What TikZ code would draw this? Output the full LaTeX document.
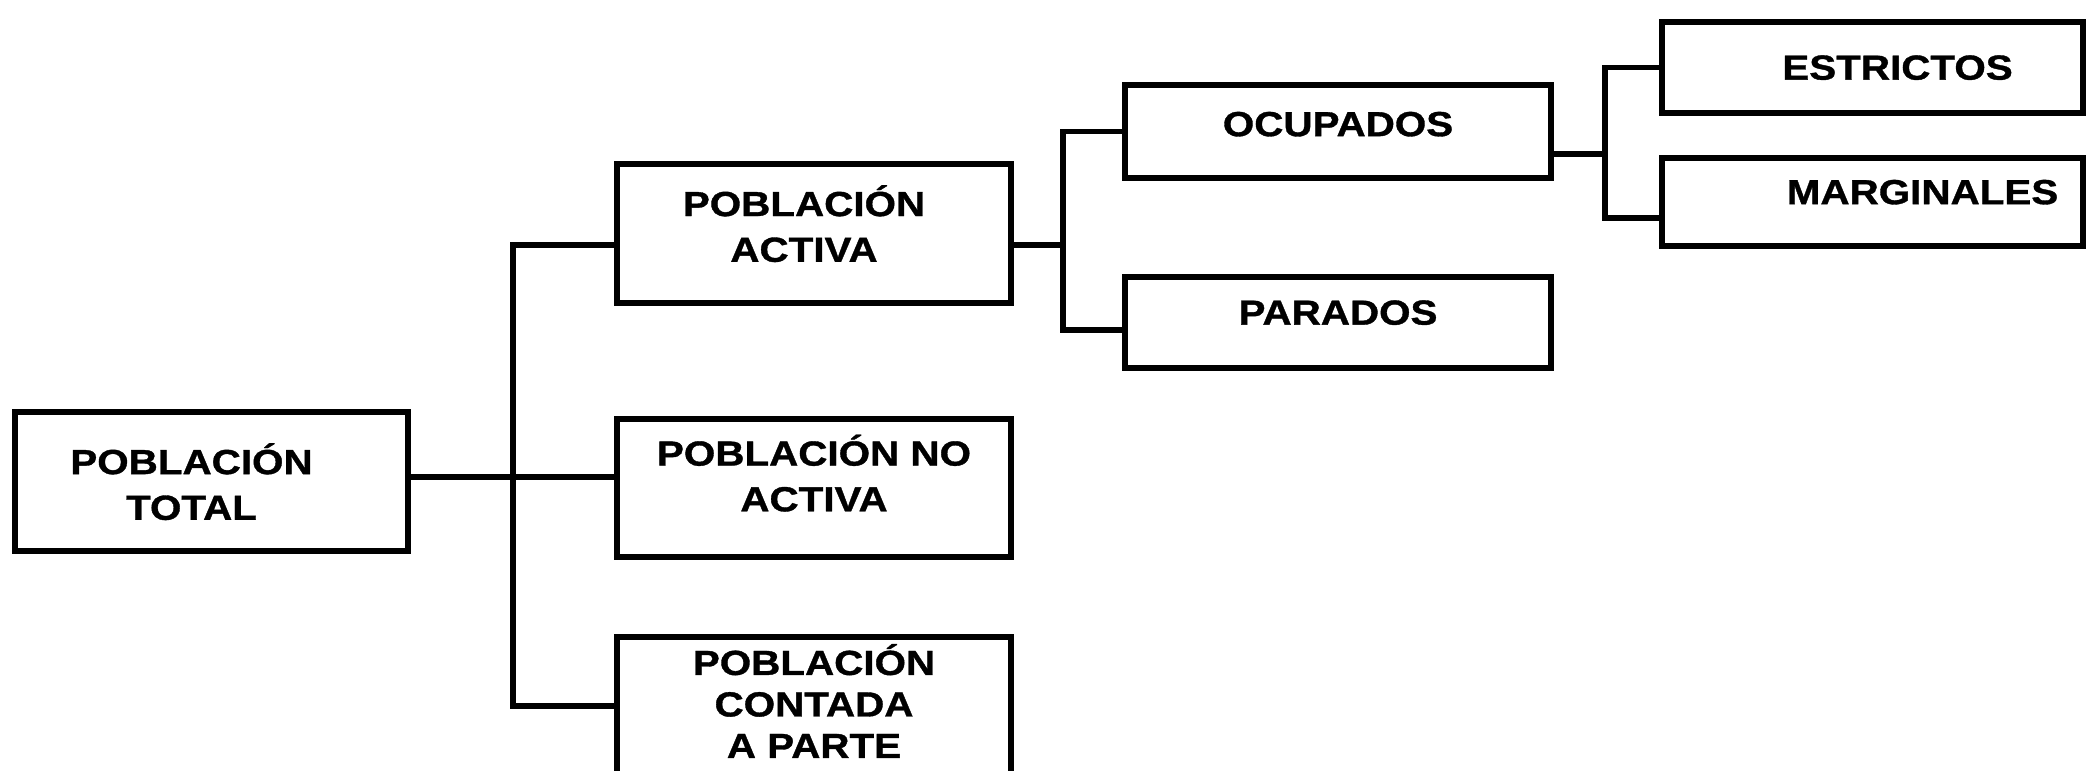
\documentclass[tikz,border=0pt]{standalone}
\usepackage{fontspec}
\newfontfamily\boxfont{Liberation Sans}[FakeStretch=1.16, FakeBold=1]

\begin{document}
\begin{tikzpicture}[
    x=0.01cm, y=-0.01cm,
    box/.style={draw, line width=1.7pt, rectangle, align=center, inner sep=0pt, text depth=0.2cm,
        font=\boxfont\bfseries\fontsize{9.9}{13}\selectfont},
    wide box/.style={box, minimum width=3.93cm, minimum height=1.38cm},
    small box/.style={box, minimum width=4.25cm, minimum height=0.9cm},
    link/.style={line width=1.7pt}
]
    \useasboundingbox (0,0) rectangle (2095,770);

    % Total
    \node[wide box, text depth=0pt] (total) at (211.5, 481.5) {POBLACIÓN\hspace*{0.4cm}\\TOTAL\hspace*{0.4cm}};

    % Second level
    \node[wide box] (activa) at (814, 233.5) {POBLACIÓN\hspace*{0.2cm}\\ACTIVA\hspace*{0.2cm}};
    \node[wide box, text depth=0.3cm] (noactiva) at (814, 488) {POBLACIÓN NO\\ACTIVA};
    \node[wide box, text depth=0.1cm, font=\boxfont\bfseries\fontsize{9.9}{11.8}\selectfont] (contada) at (814, 706) {POBLACIÓN\\CONTADA\\A PARTE};

    % Activa: ocupados / parados
    \node[small box, minimum height=0.92cm, text depth=0.15cm] (ocupados) at (1338, 131.5) {OCUPADOS};
    \node[small box] (parados) at (1338, 322.5) {PARADOS};

    % Ocupados: estrictos / marginales
    \node[small box, minimum width=4.2cm, text depth=0pt] (estrictos) at (1872.5, 67.5) {\hspace*{0.5cm}ESTRICTOS};
    \node[small box, minimum width=4.2cm, minimum height=0.87cm, text depth=0.2cm] (marginales) at (1872.5, 202) {\hspace*{1cm}MARGINALES};

    % Connectors
    \coordinate (trunk) at (513, 477);
    \coordinate (fork2) at (1063, 245);
    \coordinate (fork3) at (1605, 154);

    \draw[link] (total.east |- trunk) -- (noactiva.west |- trunk);
    \draw[link] (activa.west |- fork2) -| (trunk) |- (contada.west);
    \draw[link] (activa.east |- fork2) -- (fork2);
    \draw[link] (ocupados.west) -| (fork2) |- ([yshift=-0.075cm]parados.west);
    \draw[link] (ocupados.east |- fork3) -- (fork3);
    \draw[link] (estrictos.west) -| (fork3) |- ([yshift=-0.16cm]marginales.west);
\end{tikzpicture}
\end{document}
